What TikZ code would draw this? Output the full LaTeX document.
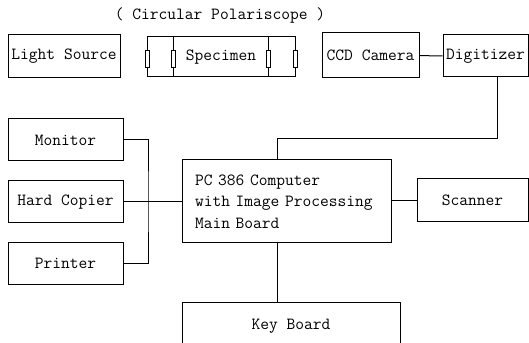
\documentclass[tikz,border=0pt]{standalone}
\usepackage{tikz}
\usetikzlibrary{calc}
\tikzstyle{box}  = [draw,line width=1pt,inner sep=0pt]
\tikzstyle{pol}  = [draw,fill=white,line width=0.8pt,minimum width=4pt,minimum height=17pt,inner sep=0pt]
\tikzstyle{wire} = [line width=1pt]

\begin{document}
\begin{tikzpicture}[x=1pt,y=1pt,font=\ttfamily\fontsize{17}{21.5}\selectfont]
  \clip (0,0) rectangle (529,342);

  %polariscope row
  \node (title) at (220,327) {( Circular Polariscope )};
  \node[box,minimum width=112pt,minimum height=43pt] (light) at (64,285.5) {Light Source};
  \node[box,minimum width=148pt,minimum height=40pt] (spec) at (221,285) {};
  \node (spectxt) at (221,285) {Specimen};
  \node[box,minimum width=97pt,minimum height=45pt] (ccd) at (370.5,286.5) {CCD Camera};
  \node[box,minimum width=85pt,minimum height=42pt] (digi) at (485.5,286) {Digitizer};

  %polarizer plates on the specimen box
  \foreach \x[count=\i] in {147,173.5,268.5,295}{
    \coordinate (c\i) at (\x,283.5);
  }
  \draw[wire] (spec.north -| c2) -- (spec.south -| c2);
  \draw[wire] (spec.north -| c3) -- (spec.south -| c3);
  \foreach \i in {1,2,3,4}{
    \node[pol] (p\i) at (c\i) {};
  }

  %main board
  \node[box,minimum width=209pt,minimum height=83pt,text width=183pt,align=left] (pc) at (286.5,140.5)
    {PC 386 Computer\\with Image Processing\\Main Board};
  \node[box,minimum width=111pt,minimum height=43pt] (scan) at (472.5,141.5) {Scanner};
  \node[box,minimum width=218pt,minimum height=47pt] (key) at (291,15.5) {Key Board};

  %put the output devices on the left
  \foreach \y/\t[count=\i] in {202/Monitor,140/Hard Copier,78.5/Printer}{
    \node[box,minimum width=115pt,minimum height=42pt] (l\i) at (65.5,\y) {\t};
  }
  \coordinate (bus) at (148,140);

  \draw[wire] (ccd) -- (digi);
  \draw[wire] (digi.south -| 497,0) |- (277,203) -- (pc.north -| 277,0);
  \draw[wire] (pc.south -| 277,0) -- (key.north -| 277,0);
  \draw[wire] (pc.east |- scan) -- (scan);
  \draw[wire] (l1.east) -| (bus) |- (l3.east);
  \draw[wire] (l2.east) -- (pc.west |- l2);
\end{tikzpicture}
\end{document}
